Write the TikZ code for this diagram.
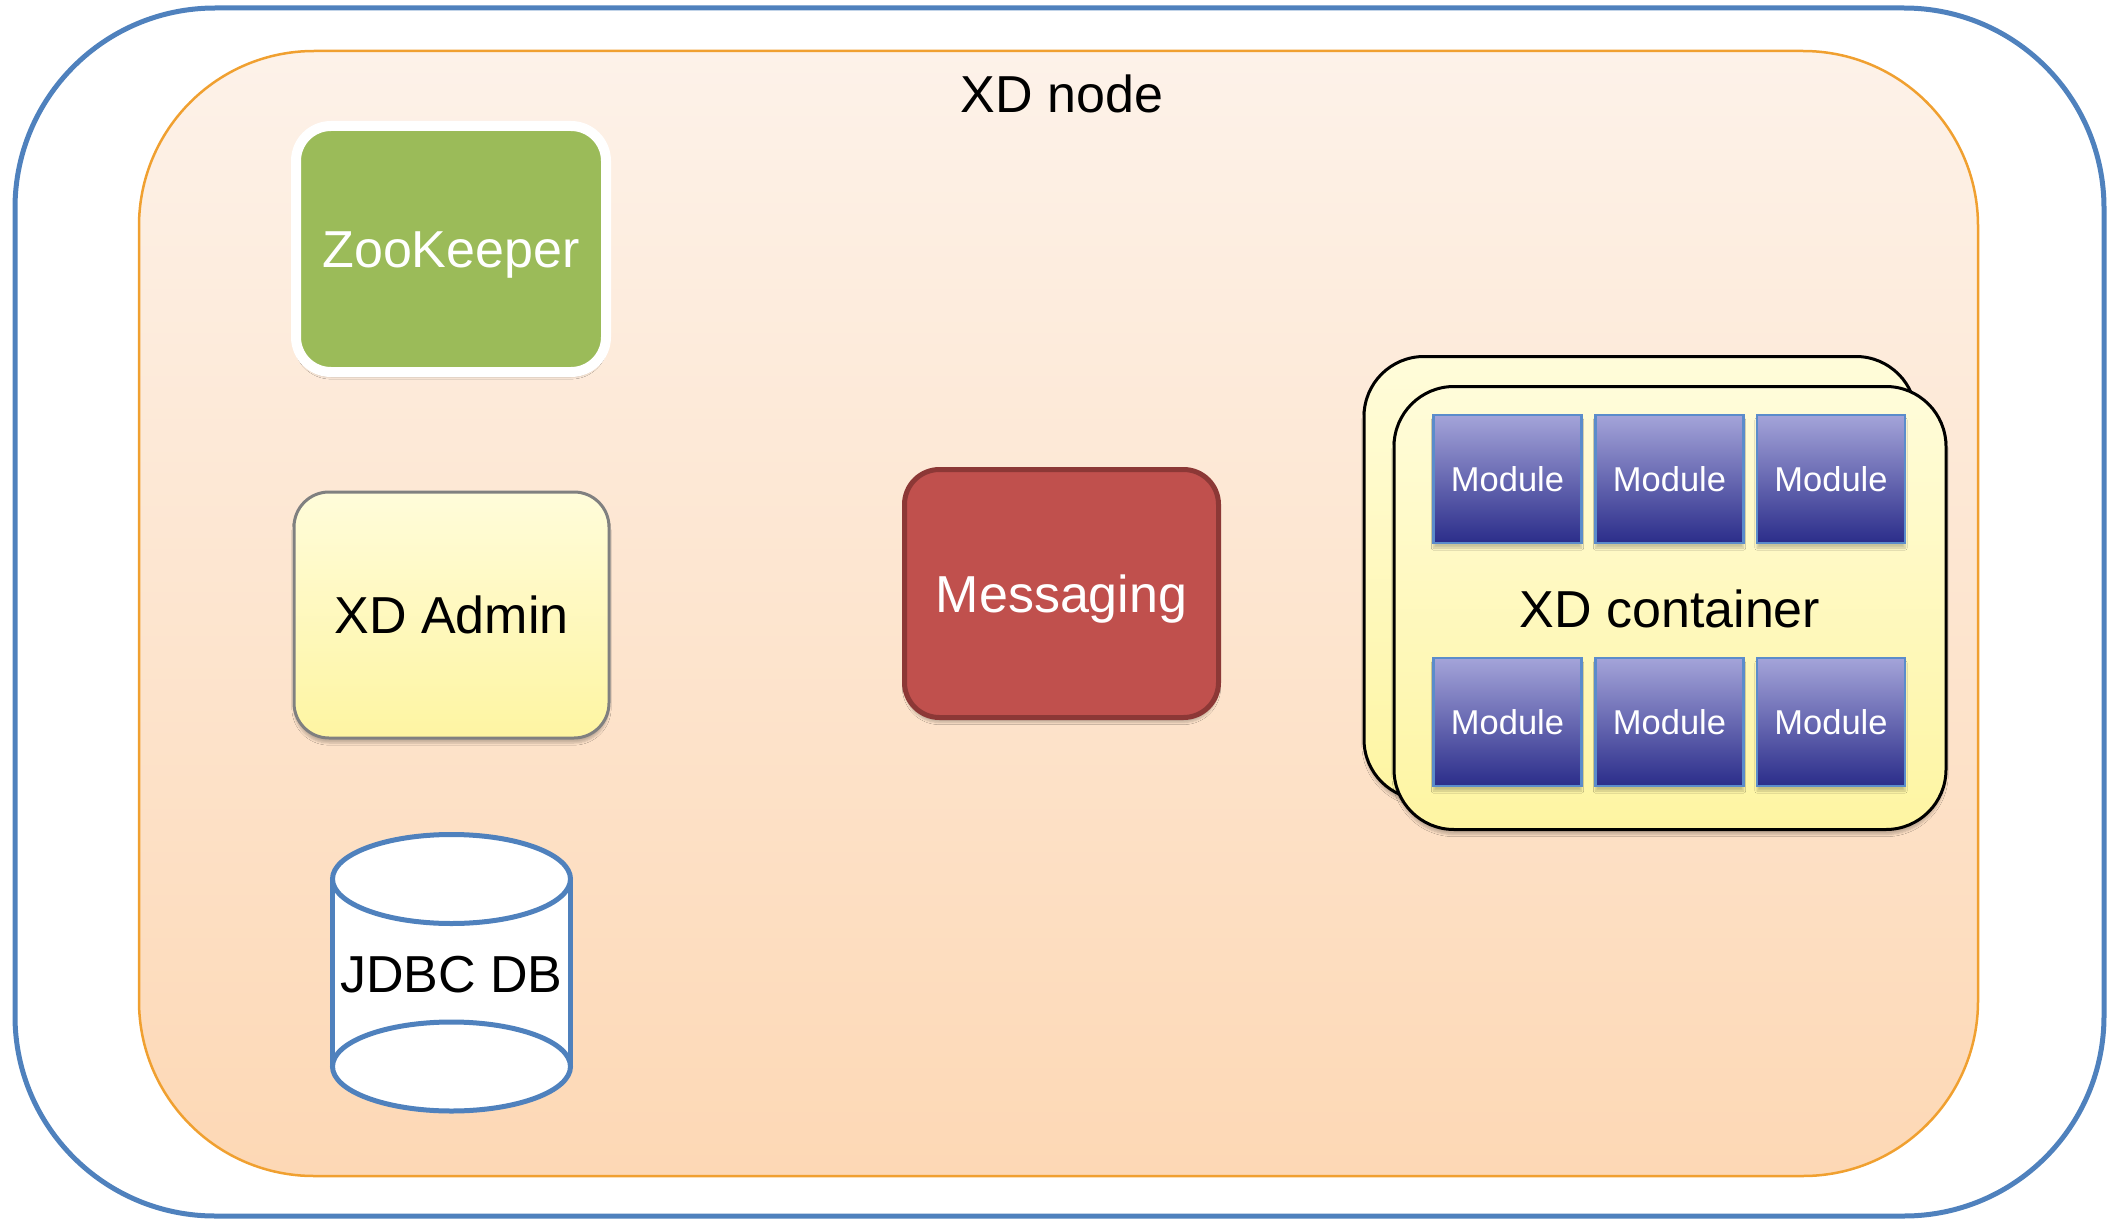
\documentclass[tikz,border=0pt]{standalone}
\usepackage{fontspec}
\setmainfont{Liberation Sans}
\usetikzlibrary{shadows.blur}
\definecolor{hostblue}{RGB}{79,129,189}
\definecolor{nodeorange}{RGB}{240,160,48}
\definecolor{nodetop}{RGB}{253,242,233}
\definecolor{nodebottom}{RGB}{253,216,181}
\definecolor{zkgreen}{RGB}{155,187,89}
\definecolor{msgred}{RGB}{192,80,77}
\definecolor{msgdark}{RGB}{140,56,54}
\definecolor{paletop}{RGB}{255,252,218}
\definecolor{palebottom}{RGB}{254,245,162}
\definecolor{modtop}{RGB}{164,164,217}
\definecolor{modbottom}{RGB}{43,45,138}
\definecolor{modline}{RGB}{91,140,203}
\tikzstyle{bigtext}=[font=\fontsize{52}{60}\selectfont, text height=37pt, text depth=0pt]
\tikzstyle{softshadow}=[blur shadow={shadow xshift=0pt, shadow yshift=-5pt, shadow blur steps=6, shadow opacity=22}]
\tikzstyle{host_frame}=[rectangle, draw=hostblue, line width=5pt, rounded corners=200pt, minimum width=2089pt, minimum height=1208pt]
\tikzstyle{xd_frame}=[rectangle, draw=nodeorange, line width=2.5pt, rounded corners=175pt, top color=nodetop, bottom color=nodebottom, minimum width=1839pt, minimum height=1125pt]
\tikzstyle{service}=[rectangle, rounded corners=35pt, inner sep=0pt, bigtext, softshadow]
\tikzstyle{container}=[rectangle, draw=black, line width=3pt, rounded corners=60pt, top color=paletop, bottom color=palebottom, minimum width=552pt, minimum height=443pt, softshadow]
\tikzstyle{module}=[rectangle, draw=modline, line width=2.5pt, top color=modtop, bottom color=modbottom, minimum width=148pt, minimum height=128pt, inner sep=0pt, text=white, font=\fontsize{34.5}{40}\selectfont, text height=25pt, text depth=0pt, softshadow]
\tikzstyle{db_line}=[draw=hostblue, line width=5pt]

\begin{document}
\begin{tikzpicture}[x=1pt,y=-1pt]
\useasboundingbox (0,0) rectangle (2121,1220);
% frames
\node[host_frame] (host) at (1059.5,612){};
\node[xd_frame] (xdnode) at (1058.5,613.5){};
\node[bigtext] (xdnodelabel) at (1062,94){XD node};
% left column
\node[service, draw=white, line width=10pt, fill=zkgreen, text=white, minimum width=310pt, minimum height=246pt] (zookeeper) at (451,249){ZooKeeper};
\node[service, draw=black!50, line width=3pt, top color=paletop, bottom color=palebottom, minimum width=315pt, minimum height=246pt] (admin) at (451.5,615){XD Admin};
\path[fill=white] (332.5,879) rectangle (570.5,1066.5);
\draw[db_line] (332.5,879) -- (332.5,1066.5) (570.5,879) -- (570.5,1066.5);
\draw[db_line, fill=white] (451.5,1066.5) ellipse [x radius=119, y radius=44.5];
\draw[db_line, fill=white] (451.5,879) ellipse [x radius=119, y radius=44.5];
\node[bigtext] (jdbc) at (451.5,974){JDBC DB};
% messaging
\node[service, draw=msgdark, line width=5pt, fill=msgred, text=white, minimum width=314pt, minimum height=248pt] (messaging) at (1061.5,593.5){Messaging};
% containers
\node[container] (container2) at (1640,578){};
\node[container] (container1) at (1670,608){};
\node[module] (mod1a) at (1507.5,479){Module};
\node[module] (mod1b) at (1669.5,479){Module};
\node[module] (mod1c) at (1831,479){Module};
\node[bigtext] (containerlabel) at (1670,609){XD container};
\node[module] (mod2a) at (1507.5,722){Module};
\node[module] (mod2b) at (1669.5,722){Module};
\node[module] (mod2c) at (1831,722){Module};
\end{tikzpicture}
\end{document}
